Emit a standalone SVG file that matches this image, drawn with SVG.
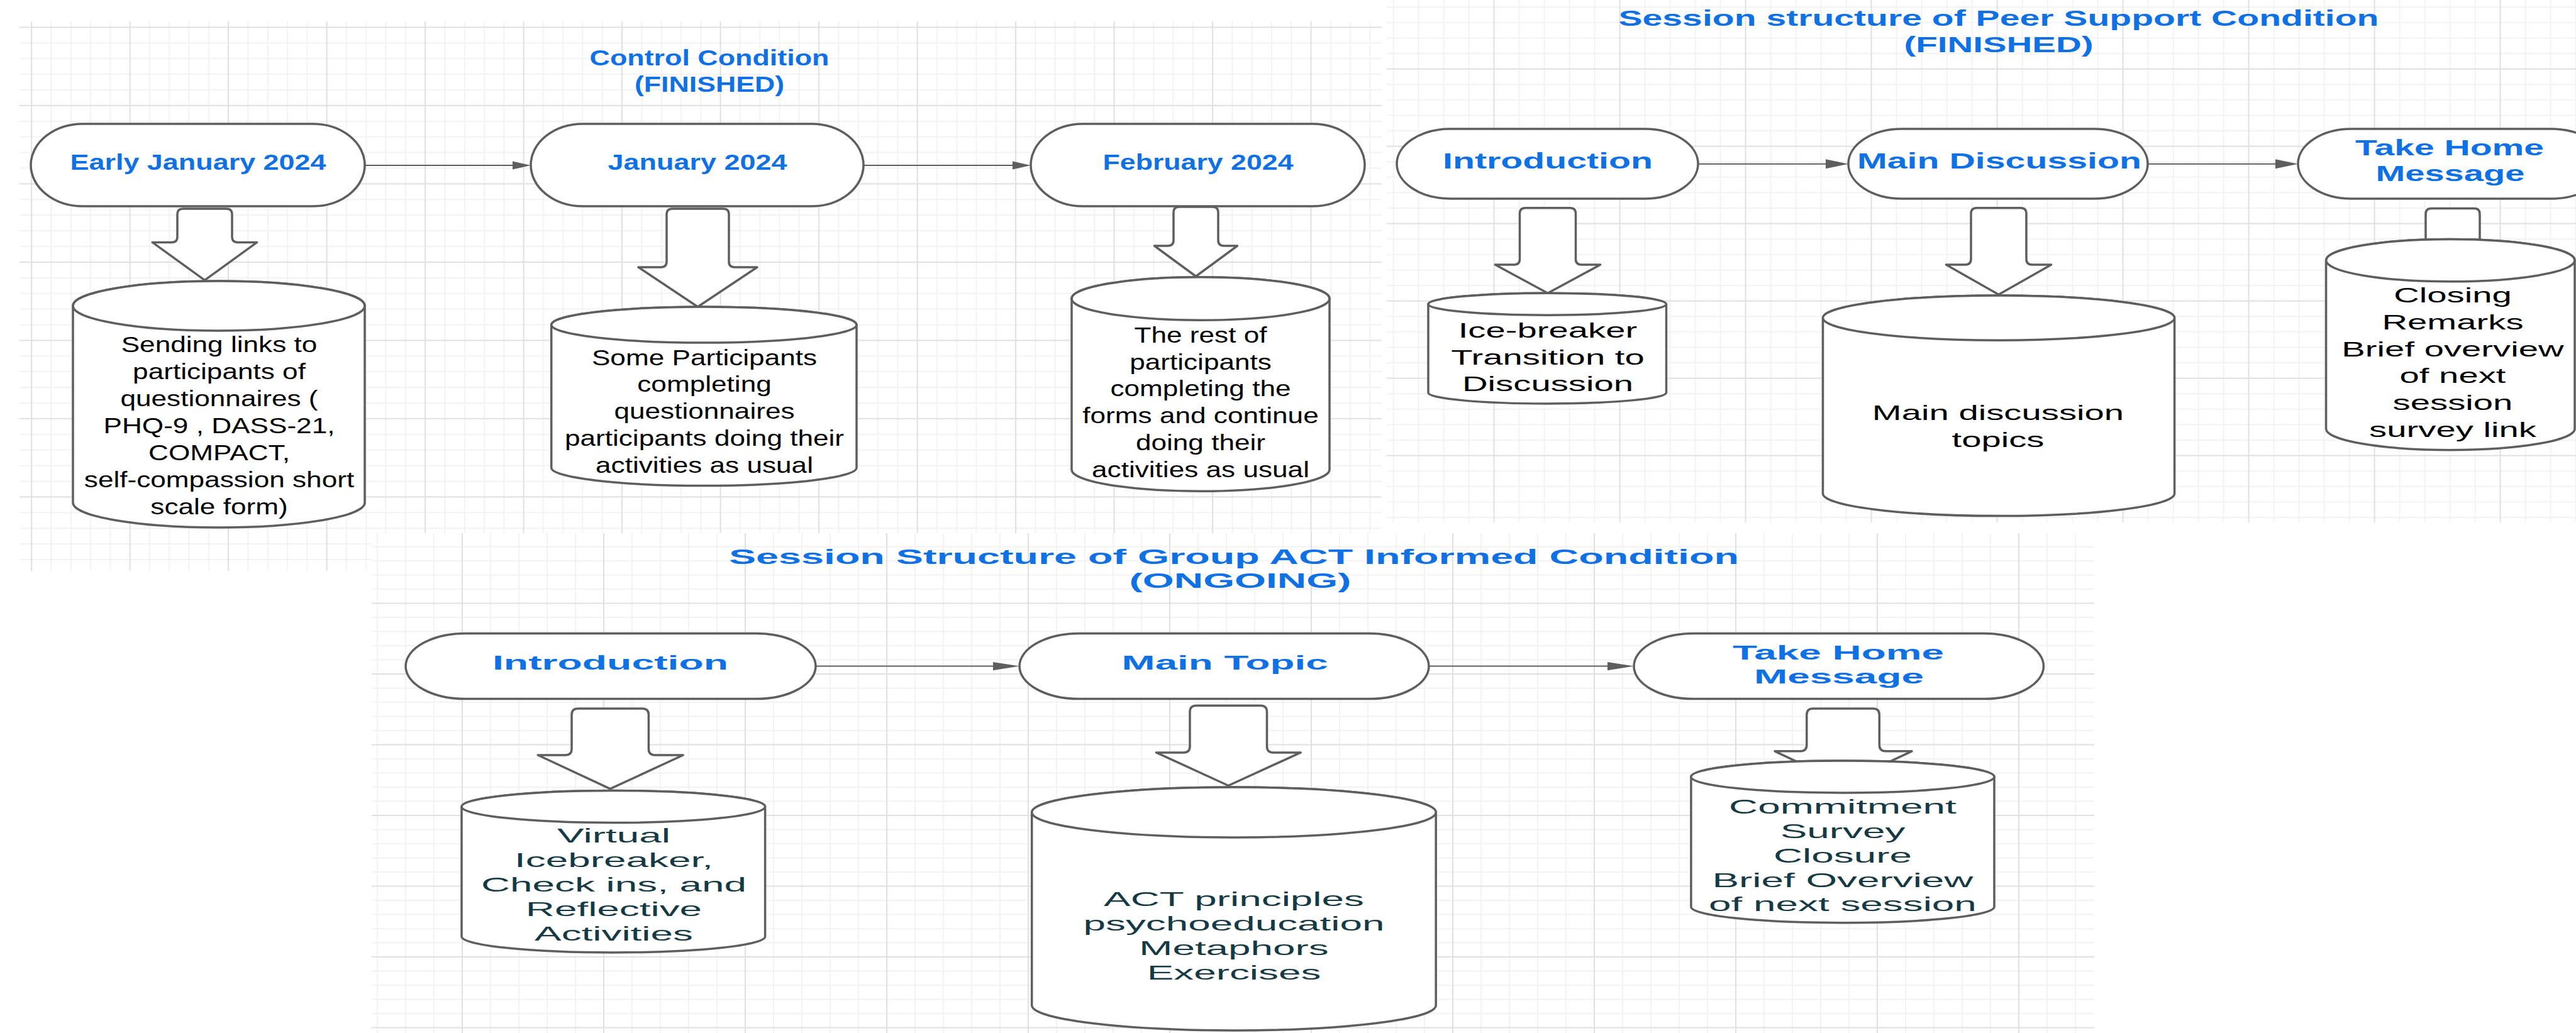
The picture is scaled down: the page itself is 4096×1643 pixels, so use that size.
<svg xmlns="http://www.w3.org/2000/svg" width="4096" height="1643" viewBox="0 0 4096 1643">
<style>
.gmin{stroke:#f0f0f0;stroke-width:1.6;fill:none}
.gmaj{stroke:#e0e0e0;stroke-width:2;fill:none}
.shape{fill:#fff;stroke:#5e5e5e;stroke-width:3.5;stroke-linejoin:round}
.conn{stroke:#5e5e5e;stroke-width:2;fill:none}
.lbl{font-family:"Liberation Sans",Arial,Helvetica,sans-serif;font-weight:bold;fill:#1071e5;text-anchor:middle}
.body{font-family:"Liberation Sans",Arial,Helvetica,sans-serif;fill:#000;text-anchor:middle}
.teal{fill:#163a44}
</style>
<defs>
<pattern id="gA" patternUnits="userSpaceOnUse" x="49.1" y="42.4" width="156.5" height="124.5">
<path class="gmin" d="M32.3 0V124.5M63.6 0V124.5M94.9 0V124.5M126.2 0V124.5M0 25.9H156.5M0 50.8H156.5M0 75.7H156.5M0 100.6H156.5"/>
<path class="gmaj" d="M1 0V124.5M0 1H156.5"/>
</pattern>
<pattern id="gB" patternUnits="userSpaceOnUse" x="3774.6" y="354.6" width="200" height="123">
<path class="gmin" d="M41 0V123M81 0V123M121 0V123M161 0V123M0 25.6H200M0 50.2H200M0 74.8H200M0 99.4H200"/>
<path class="gmaj" d="M1 0V123M0 1H200"/>
</pattern>
<pattern id="gC" patternUnits="userSpaceOnUse" x="1184" y="1296" width="225" height="112.5">
<path class="gmin" d="M46 0V112.5M91 0V112.5M136 0V112.5M181 0V112.5M0 23.5H225M0 46H225M0 68.5H225M0 91H225"/>
<path class="gmaj" d="M1 0V112.5M0 1H225"/>
</pattern>
<marker id="hA" markerUnits="userSpaceOnUse" markerWidth="30" markerHeight="14" refX="19" refY="6.5" orient="auto" overflow="visible"><path d="M0 0L29 6.5L0 13Z" fill="#5e5e5e"/></marker>
<marker id="hB" markerUnits="userSpaceOnUse" markerWidth="37" markerHeight="16" refX="26" refY="7.5" orient="auto" overflow="visible"><path d="M0 0L36 7.5L0 15Z" fill="#5e5e5e"/></marker>
<marker id="hC" markerUnits="userSpaceOnUse" markerWidth="43" markerHeight="14" refX="32" refY="6.6" orient="auto" overflow="visible"><path d="M0 0L42 6.6L0 13.2Z" fill="#5e5e5e"/></marker>
</defs>
<rect width="4096" height="1643" fill="#fff"/>
<g id="background">
<rect x="31" y="34" width="2166" height="874" fill="url(#gA)"/>
<rect x="2205" y="0" width="1891" height="831" fill="#fff"/>
<rect x="2205" y="0" width="1891" height="831" fill="url(#gB)"/>
<rect x="591" y="848" width="2739" height="795" fill="#fff"/>
<rect x="591" y="848" width="2739" height="795" fill="url(#gC)"/>
</g>
<g id="titles">
<text class="lbl" x="1128" y="104" font-size="35" textLength="381" lengthAdjust="spacingAndGlyphs">Control Condition</text>
<text class="lbl" x="1128" y="146" font-size="35" textLength="238" lengthAdjust="spacingAndGlyphs">(FINISHED)</text>
<text class="lbl" x="3178" y="41" font-size="34.5" textLength="1209" lengthAdjust="spacingAndGlyphs">Session structure of Peer Support Condition</text>
<text class="lbl" x="3178" y="82.5" font-size="34.5" textLength="301" lengthAdjust="spacingAndGlyphs">(FINISHED)</text>
<text class="lbl" x="1962" y="897" font-size="32.8" textLength="1606" lengthAdjust="spacingAndGlyphs">Session Structure of Group ACT Informed Condition</text>
<text class="lbl" x="1972" y="935" font-size="32.8" textLength="353" lengthAdjust="spacingAndGlyphs">(ONGOING)</text>
</g>
<g id="connectors">
<path class="conn" marker-end="url(#hA)" d="M580 263H834"/>
<path class="conn" marker-end="url(#hA)" d="M1373 263H1629"/>
<path class="conn" marker-end="url(#hB)" d="M2700 260.8H2929"/>
<path class="conn" marker-end="url(#hB)" d="M3415 260.8H3644"/>
<path class="conn" marker-end="url(#hC)" d="M1297 1059.6H1611"/>
<path class="conn" marker-end="url(#hC)" d="M2272 1059.6H2588"/>
<path class="shape" d="M282 341Q282 332 291 332H360Q369 332 369 341V376.4Q369 385.4 378 385.4H408.7L325.5 445.6L242.3 385.4H273Q282 385.4 282 376.4Z"/>
<path class="shape" d="M1060 341Q1060 332 1069 332H1150Q1159 332 1159 341V416Q1159 425 1168 425H1204L1109.5 488L1015 425H1051Q1060 425 1060 416Z"/>
<path class="shape" d="M1866 338Q1866 329 1875 329H1928Q1937 329 1937 338V382Q1937 391 1946 391H1967.5L1901.5 439.5L1835.5 391H1857Q1866 391 1866 382Z"/>
<path class="shape" d="M2416.5 339.8Q2416.5 330.8 2425.5 330.8H2496.5Q2505.5 330.8 2505.5 339.8V412Q2505.5 421 2514.5 421H2544.6L2461 466.3L2377.4 421H2407.5Q2416.5 421 2416.5 412Z"/>
<path class="shape" d="M3134 339.8Q3134 330.8 3143 330.8H3213Q3222 330.8 3222 339.8V412Q3222 421 3231 421H3261.6L3178 468.5L3094.4 421H3125Q3134 421 3134 412Z"/>
<path class="shape" d="M3857 340.5Q3857 331.5 3866 331.5H3934Q3943 331.5 3943 340.5V412Q3943 421 3952 421H3983.6L3900 466L3816.4 421H3848Q3857 421 3857 412Z"/>
<path class="shape" d="M909 1137Q909 1127 919 1127H1021.4Q1031.4 1127 1031.4 1137V1191Q1031.4 1201 1041.4 1201H1086.2L970.2 1254.7L855.3 1201H899Q909 1201 909 1191Z"/>
<path class="shape" d="M1892 1132.2Q1892 1122.2 1902 1122.2H2004.5Q2014.5 1122.2 2014.5 1132.2V1186.9Q2014.5 1196.9 2024.5 1196.9H2068.2L1953.2 1249.5L1838.5 1196.9H1882Q1892 1196.9 1892 1186.9Z"/>
<path class="shape" d="M2872.8 1137Q2872.8 1127 2882.8 1127H2978.3Q2988.3 1127 2988.3 1137V1184.8Q2988.3 1194.8 2998.3 1194.8H3040L2930.5 1246L2822 1194.8H2862.8Q2872.8 1194.8 2872.8 1184.8Z"/>
</g>
<g id="early-january">
<rect class="shape" x="49" y="197" width="531" height="131" rx="83" ry="65.5"/>
<text class="lbl" x="315" y="270" font-size="35.5" textLength="407" lengthAdjust="spacingAndGlyphs">Early January 2024</text>
</g>
<g id="january">
<rect class="shape" x="844" y="197" width="529" height="131" rx="83" ry="65.5"/>
<text class="lbl" x="1109" y="270" font-size="35.5" textLength="285" lengthAdjust="spacingAndGlyphs">January 2024</text>
</g>
<g id="february">
<rect class="shape" x="1639" y="197" width="531" height="131" rx="83" ry="65.5"/>
<text class="lbl" x="1905" y="270" font-size="35.5" textLength="303" lengthAdjust="spacingAndGlyphs">February 2024</text>
</g>
<g id="sending-links">
<path class="shape" d="M116 486.5V799.5A232 39.5 0 0 0 580 799.5V486.5A232 39.5 0 0 0 116 486.5Z"/>
<ellipse class="shape" cx="348" cy="486.5" rx="232" ry="39.5"/>
<g transform="matrix(1.28 0 0 1 -97.58 0)"><text class="body" font-size="34.5"><tspan x="348.5" y="560.4">Sending links to</tspan><tspan x="348.5" y="603.4">participants of</tspan><tspan x="348.5" y="646.4">questionnaires (</tspan><tspan x="348.5" y="689.4">PHQ-9 , DASS-21,</tspan><tspan x="348.5" y="732.4">COMPACT,</tspan><tspan x="348.5" y="775.4">self-compassion short</tspan><tspan x="348.5" y="818.4">scale form)</tspan></text></g>
</g>
<g id="some-participants">
<path class="shape" d="M876.7 516.5V744A242.65 28.5 0 0 0 1362 744V516.5A242.65 28.5 0 0 0 876.7 516.5Z"/>
<ellipse class="shape" cx="1119.35" cy="516.5" rx="242.65" ry="28.5"/>
<g transform="matrix(1.28 0 0 1 -313.6 0)"><text class="body" font-size="34.5"><tspan x="1120" y="580.6">Some Participants</tspan><tspan x="1120" y="623.5">completing</tspan><tspan x="1120" y="666.4">questionnaires</tspan><tspan x="1120" y="709.3">participants doing their</tspan><tspan x="1120" y="752.2">activities as usual</tspan></text></g>
</g>
<g id="rest-participants">
<path class="shape" d="M1704 475V747A205 34.2 0 0 0 2114 747V475A205 34.2 0 0 0 1704 475Z"/>
<ellipse class="shape" cx="1909" cy="475" rx="205" ry="34.2"/>
<g transform="matrix(1.28 0 0 1 -534.52 0)"><text class="body" font-size="34.5"><tspan x="1909" y="544.9">The rest of</tspan><tspan x="1909" y="587.7">participants</tspan><tspan x="1909" y="630.5">completing the</tspan><tspan x="1909" y="673.3">forms and continue</tspan><tspan x="1909" y="716.1">doing their</tspan><tspan x="1909" y="758.9">activities as usual</tspan></text></g>
</g>
<g id="peer-introduction">
<rect class="shape" x="2221" y="205" width="479" height="111" rx="85" ry="55.5"/>
<text class="lbl" x="2461" y="268" font-size="35" textLength="334" lengthAdjust="spacingAndGlyphs">Introduction</text>
</g>
<g id="peer-main-discussion">
<rect class="shape" x="2939" y="205" width="476" height="111" rx="85" ry="55.5"/>
<text class="lbl" x="3179" y="268" font-size="35" textLength="452" lengthAdjust="spacingAndGlyphs">Main Discussion</text>
</g>
<g id="peer-take-home">
<rect class="shape" x="3654" y="205" width="488" height="111" rx="85" ry="55.5"/>
<text class="lbl" x="3895" y="246.7" font-size="35" textLength="300" lengthAdjust="spacingAndGlyphs">Take Home</text>
<text class="lbl" x="3896" y="288" font-size="35" textLength="237" lengthAdjust="spacingAndGlyphs">Message</text>
</g>
<g id="ice-breaker">
<path class="shape" d="M2271 483.7V624.5A189.25 17.5 0 0 0 2649.5 624.5V483.7A189.25 17.5 0 0 0 2271 483.7Z"/>
<ellipse class="shape" cx="2460.25" cy="483.7" rx="189.25" ry="17.5"/>
<g transform="matrix(1.68 0 0 1 -1673.48 0)"><text class="body" font-size="33.5"><tspan x="2461" y="537.4">Ice-breaker</tspan><tspan x="2461" y="579.7">Transition to</tspan><tspan x="2461" y="622">Discussion</tspan></text></g>
</g>
<g id="main-discussion-topics">
<path class="shape" d="M2898.5 505.6V785A279.55 35.6 0 0 0 3457.6 785V505.6A279.55 35.6 0 0 0 2898.5 505.6Z"/>
<ellipse class="shape" cx="3178.05" cy="505.6" rx="279.55" ry="35.6"/>
<g transform="matrix(1.68 0 0 1 -2160.36 0)"><text class="body" font-size="33.5"><tspan x="3177" y="668">Main discussion</tspan><tspan x="3177" y="710.7">topics</tspan></text></g>
</g>
<g id="closing-remarks">
<path class="shape" d="M3698.6 414.1V682A197.7 33.7 0 0 0 4094 682V414.1A197.7 33.7 0 0 0 3698.6 414.1Z"/>
<ellipse class="shape" cx="3896.3" cy="414.1" rx="197.7" ry="33.7"/>
<g transform="matrix(1.68 0 0 1 -2652 0)"><text class="body" font-size="33.5"><tspan x="3900" y="481.4">Closing</tspan><tspan x="3900" y="524.1">Remarks</tspan><tspan x="3900" y="566.8">Brief overview</tspan><tspan x="3900" y="609.5">of next</tspan><tspan x="3900" y="652.2">session</tspan><tspan x="3900" y="694.9">survey link</tspan></text></g>
</g>
<g id="act-introduction">
<rect class="shape" x="645" y="1007.6" width="652" height="104" rx="95" ry="52"/>
<text class="lbl" x="970.5" y="1065.4" font-size="31.6" textLength="375" lengthAdjust="spacingAndGlyphs">Introduction</text>
</g>
<g id="act-main-topic">
<rect class="shape" x="1621" y="1007.6" width="651" height="104" rx="95" ry="52"/>
<text class="lbl" x="1947.6" y="1065.4" font-size="31.6" textLength="328" lengthAdjust="spacingAndGlyphs">Main Topic</text>
</g>
<g id="act-take-home">
<rect class="shape" x="2598" y="1007.6" width="651.5" height="104" rx="95" ry="52"/>
<text class="lbl" x="2923" y="1048.6" font-size="31.6" textLength="336" lengthAdjust="spacingAndGlyphs">Take Home</text>
<text class="lbl" x="2924" y="1086.5" font-size="31.6" textLength="270" lengthAdjust="spacingAndGlyphs">Message</text>
</g>
<g id="virtual-icebreaker">
<path class="shape" d="M734 1283V1489.5A241.3 25.5 0 0 0 1216.6 1489.5V1283A241.3 25.5 0 0 0 734 1283Z"/>
<ellipse class="shape" cx="975.3" cy="1283" rx="241.3" ry="25.5"/>
<g transform="matrix(2.02 0 0 1 -995.52 0)"><text class="body teal" font-size="31.6"><tspan x="976" y="1340.4">Virtual</tspan><tspan x="976" y="1379.4">Icebreaker,</tspan><tspan x="976" y="1418.4">Check ins, and</tspan><tspan x="976" y="1457.4">Reflective</tspan><tspan x="976" y="1496.4">Activities</tspan></text></g>
</g>
<g id="act-principles">
<path class="shape" d="M1640.7 1292V1599A321.25 40 0 0 0 2283.2 1599V1292A321.25 40 0 0 0 1640.7 1292Z"/>
<ellipse class="shape" cx="1961.95" cy="1292" rx="321.25" ry="40"/>
<g transform="matrix(2.02 0 0 1 -2001.24 0)"><text class="body teal" font-size="31.6"><tspan x="1962" y="1441.4">ACT principles</tspan><tspan x="1962" y="1480.3">psychoeducation</tspan><tspan x="1962" y="1519.2">Metaphors</tspan><tspan x="1962" y="1558.1">Exercises</tspan></text></g>
</g>
<g id="commitment">
<path class="shape" d="M2688.9 1235.5V1442.2A241.05 25.5 0 0 0 3171 1442.2V1235.5A241.05 25.5 0 0 0 2688.9 1235.5Z"/>
<ellipse class="shape" cx="2929.95" cy="1235.5" rx="241.05" ry="25.5"/>
<g transform="matrix(2.02 0 0 1 -2988.6 0)"><text class="body teal" font-size="31.6"><tspan x="2930" y="1294.2">Commitment</tspan><tspan x="2930" y="1333">Survey</tspan><tspan x="2930" y="1371.8">Closure</tspan><tspan x="2930" y="1410.6">Brief Overview</tspan><tspan x="2930" y="1449.4">of next session</tspan></text></g>
</g>
</svg>
